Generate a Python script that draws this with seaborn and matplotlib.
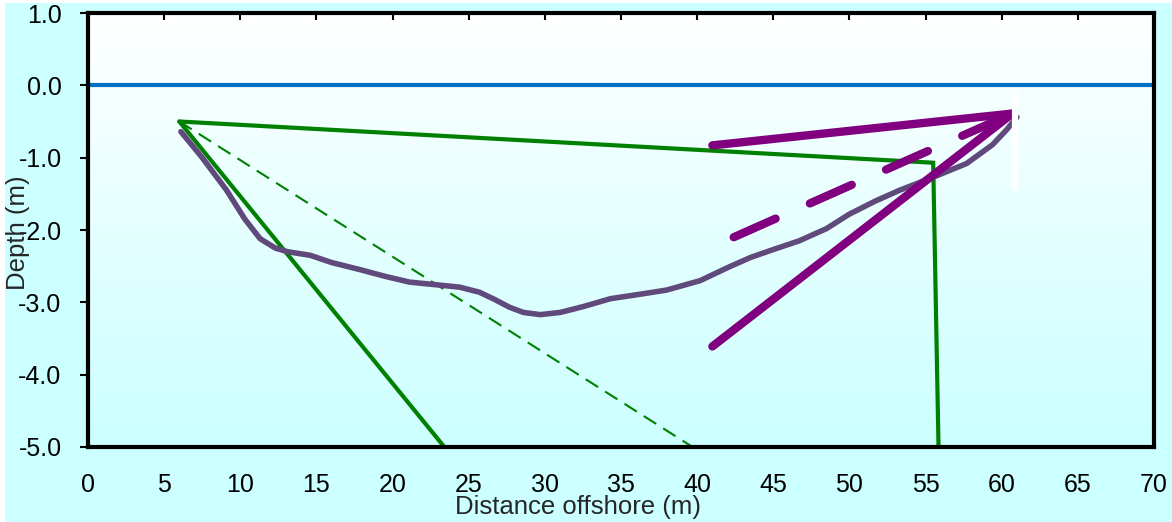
import matplotlib
matplotlib.use("Agg")
import matplotlib.pyplot as plt
import seaborn as sns
import numpy as np
from matplotlib.colors import LinearSegmentedColormap
from matplotlib.patches import Rectangle

# measured bed profile (distance offshore, depth)
profile_x = [6.1, 7.5, 9.1, 10.3, 11.3, 12.3, 13.1, 14.6, 16.0, 17.9, 19.5, 21.1,
             23.0, 24.4, 25.7, 26.7, 27.7, 28.6, 29.7, 31.0, 32.5, 34.3, 36.5,
             38.0, 40.2, 42.0, 43.5, 45.0, 46.7, 48.5, 50.0, 51.7, 53.3, 55.5,
             57.7, 59.4, 60.3, 61.0]
profile_y = [-0.64, -1.0, -1.45, -1.85, -2.12, -2.25, -2.30, -2.35, -2.45, -2.55,
             -2.64, -2.72, -2.76, -2.79, -2.86, -2.96, -3.07, -3.14, -3.17, -3.14,
             -3.06, -2.95, -2.88, -2.83, -2.70, -2.52, -2.38, -2.27, -2.15, -1.98,
             -1.78, -1.60, -1.45, -1.27, -1.08, -0.82, -0.62, -0.44]

# water surface
sea_x = [0, 70]
sea_y = [0.0, 0.0]

# green construction lines
green_outline_x = [6.0, 55.5, 55.85]
green_outline_y = [-0.5, -1.07, -5.0]
green_steep_x = [6.0, 23.4]
green_steep_y = [-0.5, -5.0]
green_dash_x = [6.0, 39.7]
green_dash_y = [-0.5, -5.0]

# purple fan lines meeting at the offshore end
apex = (60.7, -0.39)
purple_top_x = [41.0, apex[0]]
purple_top_y = [-0.83, apex[1]]
purple_mid_x = [42.4, apex[0]]
purple_mid_y = [-2.1, apex[1]]
purple_low_x = [41.0, apex[0]]
purple_low_y = [-3.61, apex[1]]

# small white marker
marker_x = [60.9, 60.9]
marker_y = [-0.11, -1.42]

x_ticks = list(range(0, 75, 5))
y_ticks = [1.0, 0.0, -1.0, -2.0, -3.0, -4.0, -5.0]

sns.set_style("white")
plt.rcParams['font.family'] = ['Liberation Sans', 'DejaVu Sans']

bg = "#ccffff"
fig = plt.figure(figsize=(11.72, 5.22), dpi=100, facecolor="white")
fig.patches.append(Rectangle((5 / 1172, 0), 1, 1 - 3 / 522, transform=fig.transFigure,
                             facecolor=bg, edgecolor="none", zorder=-10))
ax = fig.add_axes([88 / 1172, 75 / 522, 1066 / 1172, 434 / 522])

# plot area gradient, white at top to pale cyan at bottom
cmap = LinearSegmentedColormap.from_list("bgfade", [bg, "white"])
ax.imshow(np.linspace(0, 1, 256).reshape(-1, 1), cmap=cmap, origin="lower",
          extent=[0, 70, -5, 1], aspect="auto", zorder=0)

line_kw = dict(sort=False, estimator=None, legend=False, ax=ax)
sns.lineplot(x=sea_x, y=sea_y, color="#0070c0", lw=3, zorder=2, **line_kw)
sns.lineplot(x=green_outline_x, y=green_outline_y, color="#008000", lw=3,
             solid_joinstyle="miter", zorder=3, **line_kw)
sns.lineplot(x=green_steep_x, y=green_steep_y, color="#008000", lw=3, zorder=3, **line_kw)
sns.lineplot(x=green_dash_x, y=green_dash_y, color="#008000", lw=1.5,
             linestyle=(0, (7, 4)), zorder=3, **line_kw)
sns.lineplot(x=profile_x, y=profile_y, color="#604a7b", lw=4,
             solid_capstyle="round", solid_joinstyle="round", zorder=4, **line_kw)
sns.lineplot(x=purple_top_x, y=purple_top_y, color="#800080", lw=6,
             solid_capstyle="round", zorder=5, **line_kw)
sns.lineplot(x=purple_low_x, y=purple_low_y, color="#800080", lw=6,
             solid_capstyle="round", zorder=5, **line_kw)
sns.lineplot(x=purple_mid_x, y=purple_mid_y, color="#800080", lw=6,
             linestyle=(0, (5.5, 4.5)), dash_capstyle="round", zorder=5, **line_kw)
sns.lineplot(x=marker_x, y=marker_y, color="white", lw=4.5,
             solid_capstyle="round", zorder=5, **line_kw)

ax.set_xlim(0, 70)
ax.set_ylim(-5, 1)
ax.set_xticks(x_ticks)
ax.set_yticks(y_ticks)
ax.set_yticklabels([f"{v:.1f}".replace("\u2212", "-") for v in y_ticks])
ax.set_xlabel("")
ax.set_ylabel("")

for side in ["left", "right", "top", "bottom"]:
    ax.spines[side].set_visible(True)
    ax.spines[side].set_color("black")
    ax.spines[side].set_linewidth(3)
    ax.spines[side].set_zorder(6)

ax.tick_params(axis="x", top=True, bottom=False, direction="in", length=5, width=1.5,
               labelbottom=True, labeltop=False, labelsize=18, pad=19, colors="black")
ax.tick_params(axis="y", left=True, right=False, direction="out", length=6, width=1.5,
               labelsize=18, pad=13, colors="black")

fig.text(578 / 1172, 1 - 507 / 522, "Distance offshore (m)", ha="center", va="center",
         fontsize=18.5)
fig.text(18 / 1172, 1 - 233 / 522, "Depth (m)", ha="center", va="center",
         rotation=90, fontsize=18.5)

fig.savefig("out.png", dpi=100, facecolor=fig.get_facecolor())
